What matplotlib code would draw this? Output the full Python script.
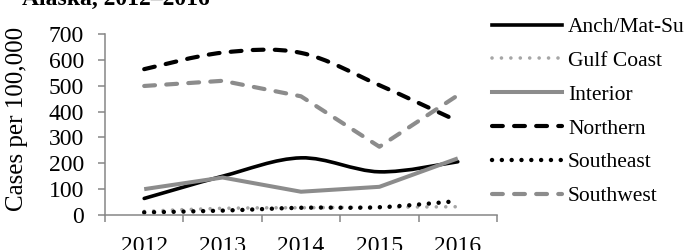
import numpy as np
import matplotlib
matplotlib.use('Agg')
import matplotlib.pyplot as plt
from matplotlib.path import Path
from matplotlib.patches import PathPatch
from matplotlib.lines import Line2D

plt.rcParams['font.family'] = ['Liberation Serif', 'DejaVu Serif']

years = ['2012', '2013', '2014', '2015', '2016']
anch = [64, 150, 221, 167, 206]
gulf = [14, 26, 28, 30, 32]
interior = [100, 145, 90, 109, 219]
northern = [564, 628, 627, 502, 363]
southeast = [10, 17, 28, 30, 54]
southwest = [499, 519, 459, 264, 463]

GRAY = '#8c8c8c'
LIGHT = '#a6a6a6'
AXIS = '#868686'


def smooth_path(xs, ys):
    # excel-like smoothed line as cubic bezier segments
    p = np.column_stack([xs, ys]).astype(float)
    n = len(p)
    verts = [p[0]]
    codes = [Path.MOVETO]
    for i in range(n - 1):
        p0 = p[max(i - 1, 0)]
        p3 = p[min(i + 2, n - 1)]
        c1 = p[i] + (p[i + 1] - p0) / 6
        c2 = p[i + 1] - (p3 - p[i]) / 6
        verts += [c1, c2, p[i + 1]]
        codes += [Path.CURVE4] * 3
    return Path(verts, codes)


series = [
    ('Anch/Mat-Su', anch, dict(color='black', lw=2.6, ls='-'), True),
    ('Gulf Coast', gulf, dict(color=LIGHT, lw=2.6, ls=(0, (0.01, 2.6))), True),
    ('Interior', interior, dict(color=GRAY, lw=2.9, ls='-'), False),
    ('Northern', northern, dict(color='black', lw=3.0, ls=(0, (2.6, 2.7))), True),
    ('Southeast', southeast, dict(color='black', lw=3.2, ls=(0, (0.01, 2.2))), True),
    ('Southwest', southwest, dict(color=GRAY, lw=3.0, ls=(0, (2.6, 2.7))), False),
]

fig = plt.figure(figsize=(6.86, 2.5), dpi=100)
ax = fig.add_axes([105 / 686, 35 / 250, 392 / 686, 181 / 250])

x = np.arange(len(years))
handles = []
for name, vals, st, smooth in series:
    if smooth:
        patch = PathPatch(smooth_path(x, vals), fill=False, edgecolor=st['color'],
                          lw=st['lw'], ls=st['ls'], capstyle='round', joinstyle='round')
        ax.add_patch(patch)
    else:
        ax.plot(x, vals, color=st['color'], lw=st['lw'], ls=st['ls'],
                dash_capstyle='round', solid_capstyle='butt')
    handles.append(Line2D([], [], color=st['color'], lw=st['lw'], ls=st['ls'],
                          dash_capstyle='round', label=name))

ax.set_xlim(-0.5, len(years) - 0.5)
ax.set_ylim(0, 700)
ax.set_yticks(range(0, 701, 100))
ax.set_xticks(np.arange(-0.5, len(years), 1))
ax.set_xticklabels([])
ax.set_xticks(x, minor=True)
ax.set_xticklabels(years, minor=True)

for s in ['top', 'right']:
    ax.spines[s].set_visible(False)
for s in ['left', 'bottom']:
    ax.spines[s].set_color(AXIS)
    ax.spines[s].set_linewidth(1.1)
ax.tick_params(axis='both', which='major', direction='out', length=5, width=1.1,
               color=AXIS, labelsize=17)
ax.tick_params(axis='y', pad=10)
ax.tick_params(axis='x', which='minor', length=0, pad=15, labelsize=17)

ax.set_ylabel('Cases per 100,000', fontsize=18)
ax.yaxis.set_label_coords(-0.196, 0.53)

fig.text(210 / 686, 1 - 5 / 250, 'Alaska, 2012\u20132016', ha='right', va='baseline',
         fontsize=17, fontweight='bold')

ax.legend(handles=handles, loc='upper left', bbox_to_anchor=(492 / 686, 1 - 17 / 250),
          bbox_transform=fig.transFigure, frameon=False, fontsize=15.5,
          handlelength=3.25, handletextpad=0.28, labelspacing=0.64, borderpad=0,
          borderaxespad=0)

fig.savefig('out.png', dpi=100)
